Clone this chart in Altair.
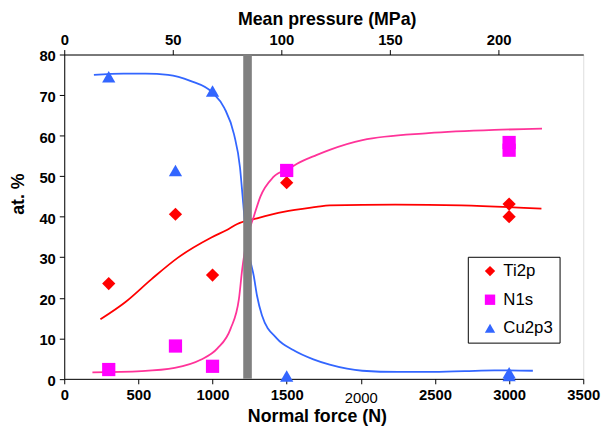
import altair as alt
import pandas as pd

FONT = "Liberation Sans"

# ---- categories / styling domains ----
series = ["Ti2p", "N1s", "Cu2p3"]
point_colors = ["#FF0000", "#FF00FF", "#3366FF"]
shapes = ["diamond", "square", "triangle-up"]

# ---- measured points ----
ti_x = [300, 750, 1000, 1500, 3000, 3000]
ti_y = [23.5, 40.6, 25.6, 48.4, 43.1, 40.0]
n_x = [300, 750, 1000, 1500, 3000, 3000]
n_y = [2.3, 8.1, 3.1, 51.4, 58.3, 56.4]
cu_x = [300, 750, 1000, 1500, 3000, 3000]
cu_y = [74.5, 51.4, 71.0, 0.7, 1.5, 0.8]

# ---- fitted trend curves ----
ti_line_x = [244, 411, 589, 767, 989, 1100, 1167, 1300, 1478, 1700, 1790, 2233, 2678, 3218]
ti_line_y = [14.7, 18.9, 24.6, 29.9, 34.8, 36.8, 38.2, 39.6, 41.2, 42.4, 42.8, 43.0, 42.8, 42.0]

n_line_x = [190, 520, 745, 920, 1033, 1122, 1178, 1200, 1235, 1278, 1322, 1411, 1522, 1567, 1700, 1790, 2011, 2456, 2900, 3222]
n_line_y = [1.6, 1.9, 2.7, 4.7, 7.5, 12.4, 19.7, 27.0, 35.0, 40.0, 44.9, 49.8, 52.0, 53.0, 55.2, 56.5, 58.9, 60.6, 61.4, 61.7]

cu_line_x = [200, 400, 550, 700, 850, 1000, 1080, 1145, 1185, 1205, 1225, 1250, 1278, 1300, 1333, 1433, 1544, 1680, 1790, 2010, 2250, 2456, 2700, 2900, 3160]
cu_line_y = [75.0, 75.3, 75.3, 75.0, 73.5, 70.6, 66.8, 60.3, 52.2, 44.1, 36.0, 30.0, 25.4, 20.5, 15.7, 10.0, 7.1, 4.8, 3.5, 2.0, 1.7, 1.7, 1.9, 2.1, 2.0]

# ---- grey transition band ----
band_x1 = [1207]
band_x2 = [1265]
band_y1 = [0]
band_y2 = [80]

# ---- axes ----
force_ticks = [0, 500, 1000, 1500, 2000, 2500, 3000, 3500]
pressure_ticks = [0, 50, 100, 150, 200]
pressure_domain = [0, 239]
y_ticks = [0, 10, 20, 30, 40, 50, 60, 70, 80]

points_df = pd.DataFrame({
    "force": ti_x + n_x + cu_x,
    "at": ti_y + n_y + cu_y,
    "series": ["Ti2p"] * len(ti_x) + ["N1s"] * len(n_x) + ["Cu2p3"] * len(cu_x),
})
ti_line = pd.DataFrame({"force": ti_line_x, "at": ti_line_y})
n_line = pd.DataFrame({"force": n_line_x, "at": n_line_y})
cu_line = pd.DataFrame({"force": cu_line_x, "at": cu_line_y})
band_df = pd.DataFrame({"x1": band_x1, "x2": band_x2, "y1": band_y1, "y2": band_y2})
top_df = pd.DataFrame({"p": pressure_domain})

x_scale = alt.Scale(domain=[0, 3500], nice=False, zero=False)
y_scale = alt.Scale(domain=[0, 80], nice=False)

x_axis = alt.Axis(
    values=force_ticks, title="Normal force (N)", grid=False, format="d",
    labelFlush=False, labelOverlap=False,
    labelFont=FONT, labelFontSize=15,
    labelFontWeight={"condition": {"test": "datum.value == 2000", "value": "normal"}, "value": "bold"},
    labelPadding={"condition": {"test": "datum.value == 2000", "value": 7}, "value": 4},
    labelColor="black", tickColor="black", domainColor="black", tickSize=5,
    titleFont=FONT, titleFontSize=18, titleFontWeight="bold", titleColor="black",
    titleX=256, titleY=38, titleBaseline="middle", titleAlign="center",
)
y_axis = alt.Axis(
    values=y_ticks, title="at. %", grid=False, format="d",
    labelFlush=False, labelOverlap=False,
    labelFont=FONT, labelFontSize=15, labelFontWeight="bold", labelColor="black",
    labelPadding=4, labelOffset=1.5,
    tickColor="black", domainColor="black", tickSize=5,
    titleFont=FONT, titleFontSize=18, titleFontWeight="bold", titleColor="black",
    titleX=-46, titleY=141, titleBaseline="middle", titleAlign="center", titleAngle=-90,
)

X = alt.X("force:Q", scale=x_scale, axis=x_axis)
Y = alt.Y("at:Q", scale=y_scale, axis=y_axis)


def curve(df, color):
    return alt.Chart(df).mark_line(color=color, strokeWidth=1.8, interpolate="monotone").encode(x=X, y=Y)


legend = alt.Legend(
    title=None, orient="none", legendX=409, legendY=205,
    strokeColor="black", fillColor="white", padding=6,
    symbolOffset=8, labelOffset=5, labelFont=FONT, labelFontSize=17, labelColor="black",
    rowPadding=11, symbolSize=110, symbolStrokeWidth=0,
)

pts = alt.Chart(points_df).mark_point(filled=True, opacity=1, size=180).encode(
    x=X, y=Y,
    color=alt.Color("series:N", scale=alt.Scale(domain=series, range=point_colors), legend=legend),
    shape=alt.Shape("series:N", scale=alt.Scale(domain=series, range=shapes), legend=legend),
)

band = alt.Chart(band_df).mark_rect(color="#808080").encode(
    x=alt.X("x1:Q", scale=x_scale, axis=x_axis), x2="x2:Q",
    y=alt.Y("y1:Q", scale=y_scale, axis=y_axis), y2="y2:Q",
)

main = alt.layer(
    curve(ti_line, "#FF0000"),
    curve(n_line, "#FF3399"),
    curve(cu_line, "#3366FF"),
    pts,
    band,
)

top = alt.Chart(top_df).mark_point(opacity=0).encode(
    x=alt.X("p:Q", scale=alt.Scale(domain=pressure_domain, nice=False, zero=False),
            axis=alt.Axis(orient="top", values=pressure_ticks, title="Mean pressure (MPa)", grid=False,
                          format="d", labelFlush=False, labelOverlap=False,
                          labelFont=FONT, labelFontSize=15, labelFontWeight="bold", labelColor="black",
                          labelPadding=2, tickColor="black", domainColor="black", tickSize=5,
                          titleFont=FONT, titleFontSize=18, titleFontWeight="bold", titleColor="black",
                          titleX=266, titleY=-35, titleBaseline="middle", titleAlign="center")),
)

chart = alt.layer(main, top).resolve_scale(x="independent").properties(
    width=526, height=328.7,
    padding={"left": 57, "top": 44.3, "right": 20, "bottom": 50},
    autosize=alt.AutoSizeParams(type="none"),
).configure_view(stroke="#999999", strokeWidth=1).configure(background="white")

chart.save("out.html", embed_options={"renderer": "svg", "actions": False})
